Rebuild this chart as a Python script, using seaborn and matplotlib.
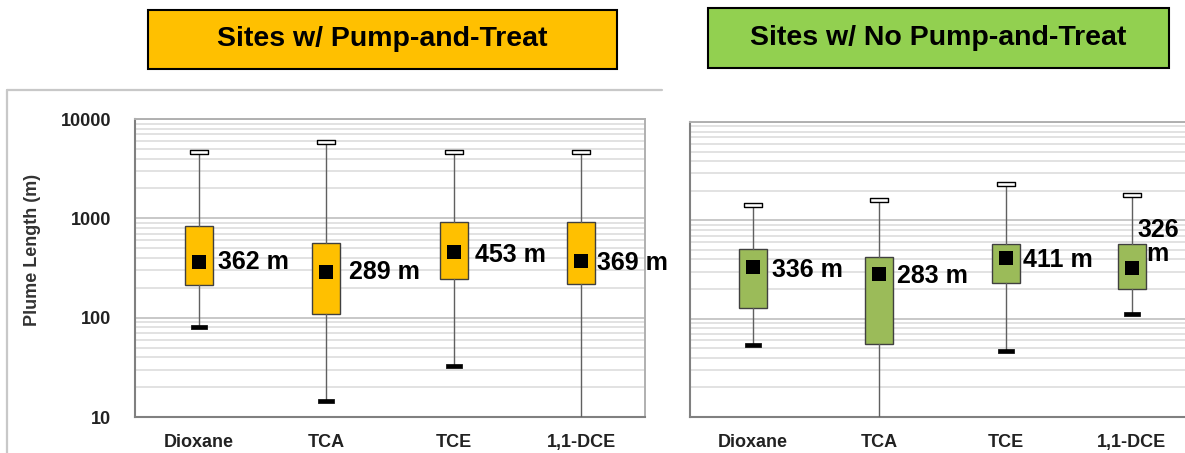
import numpy as np
import pandas as pd
import seaborn as sns
import matplotlib.pyplot as plt
from matplotlib.patches import Rectangle
from matplotlib.lines import Line2D
from matplotlib.ticker import LogLocator, NullFormatter, FixedLocator

compounds = ["Dioxane", "TCA", "TCE", "1,1-DCE"]

# sites with pump-and-treat (plume length, m)
pt_whishi = [4600, 5900, 4700, 4600]
pt_q3 = [840, 570, 925, 925]
pt_q1 = [213, 110, 243, 218]
pt_whislo = [81, 14.6, 32.8, 9]
pt_mean = [362, 289, 453, 369]
pt_labels = ["362 m", "289 m", "453 m", "369 m"]

# sites with no pump-and-treat
npt_whishi = [1430, 1620, 2360, 1800]
npt_q3 = [507, 424, 579, 579]
npt_q1 = [128, 55, 229, 199]
npt_whislo = [53.5, 9, 46.5, 112]
npt_mean = [336, 283, 411, 326]
npt_labels = ["336 m", "283 m", "411 m", "326\nm"]

sns.set_theme(style="white")
plt.rcParams["font.family"] = ["Liberation Sans", "DejaVu Sans"]

W, H = 1185, 453
fig = plt.figure(figsize=(W / 100, H / 100), dpi=100)

# outer light frame around left panel
fig.add_artist(Line2D([7 / W, 662 / W], [1 - 90 / H, 1 - 90 / H], color="#c8c8c8", lw=1.6))
fig.add_artist(Line2D([7 / W, 7 / W], [1 - 90 / H, 0], color="#c8c8c8", lw=1.6))

cap_verts = [(-1, -0.25), (1, -0.25), (1, 0.25), (-1, 0.25), (-1, -0.25)]


def panel(ax, whishi, q3, q1, whislo, mean, labels, color, dxs, show_y):
    stats = []
    for i in range(len(compounds)):
        stats.append(dict(med=mean[i], q1=q1[i], q3=q3[i], whislo=whislo[i], whishi=whishi[i]))
    ax.bxp(stats, positions=range(len(compounds)), widths=0.22, showcaps=False,
           showfliers=False, patch_artist=True,
           boxprops=dict(facecolor=color, edgecolor="#404040", lw=1.0),
           whiskerprops=dict(color="#606060", lw=1.0),
           medianprops=dict(lw=0), zorder=3)
    df = pd.DataFrame({"x": range(len(compounds)), "mean": mean, "hi": whishi, "lo": whislo})
    sns.scatterplot(data=df, x="x", y="hi", marker=cap_verts, s=160, color="white",
                    edgecolor="black", linewidth=1.0, ax=ax, zorder=4, legend=False)
    sns.scatterplot(data=df, x="x", y="lo", marker=cap_verts, s=140, color="black",
                    edgecolor="black", linewidth=0.5, ax=ax, zorder=4, legend=False)
    sns.scatterplot(data=df, x="x", y="mean", marker="s", s=90, color="black",
                    edgecolor="black", linewidth=0, ax=ax, zorder=5, legend=False)
    for i, lab in enumerate(labels):
        dx, dy = dxs[i]
        ax.annotate(lab, (i, mean[i]), xytext=(dx, dy), textcoords="offset pixels",
                    ha="left" if "\n" not in lab else "center", va="center",
                    fontsize=18, fontweight="bold", color="black",
                    linespacing=1.0, zorder=6, annotation_clip=False)
    ax.set_yscale("log")
    ax.set_ylim(10, 10000)
    ax.set_xlim(-0.5, 3.5)
    ax.yaxis.set_major_locator(FixedLocator([10, 100, 1000, 10000]))
    ax.yaxis.set_minor_locator(LogLocator(base=10, subs=np.arange(2, 10)))
    ax.yaxis.set_minor_formatter(NullFormatter())
    ax.grid(True, which="major", axis="y", color="#c8c8c8", lw=1.4)
    ax.grid(True, which="minor", axis="y", color="#e2e2e2", lw=1.4)
    ax.set_axisbelow(True)
    ax.set_xticks(range(len(compounds)))
    ax.set_xticklabels(compounds, fontsize=13, fontweight="bold", color="#222222")
    ax.tick_params(axis="x", length=0, pad=12)
    ax.tick_params(axis="y", which="major", length=5, width=1.2, color="#808080",
                   direction="out", pad=12, labelsize=13)
    ax.tick_params(axis="y", which="minor", length=0)
    if show_y:
        ax.set_yticklabels(["10", "100", "1000", "10000"], fontweight="bold", color="#222222")
    else:
        ax.set_yticklabels([])
    for s in ["left", "bottom"]:
        ax.spines[s].set_color("#808080")
        ax.spines[s].set_linewidth(1.5)
    for s in ["top", "right"]:
        ax.spines[s].set_color("#b0b0b0")
        ax.spines[s].set_linewidth(1.4)
    ax.set_xlabel("")
    ax.set_ylabel("")


ax1 = fig.add_axes([135 / W, 36 / H, 510 / W, 298 / H])
panel(ax1, pt_whishi, pt_q3, pt_q1, pt_whislo, pt_mean, pt_labels, "#FFC000",
      [(19, 0), (23, 0), (21, -3), (16, -2)], True)

ax2 = fig.add_axes([690 / W, 36 / H, 505 / W, 295 / H])
panel(ax2, npt_whishi, npt_q3, npt_q1, npt_whislo, npt_mean, npt_labels, "#9BBB59",
      [(19, -3), (18, -2), (17, -2), (26, 26)], False)

fig.text(33 / W, 1 - 250 / H, "Plume Length (m)", rotation=90, ha="center", va="center",
         fontsize=13, fontweight="bold", color="#333333")

# title boxes
fig.add_artist(Rectangle((148 / W, 1 - 69 / H), (617 - 148) / W, 59 / H,
                         facecolor="#FFC000", edgecolor="black", lw=1.5))
fig.text((148 + 617) / 2 / W, 1 - 39 / H, "Sites w/ Pump-and-Treat", ha="center", va="center",
         fontsize=20.5, fontweight="bold", color="black")
fig.add_artist(Rectangle((708 / W, 1 - 68 / H), (1169 - 708) / W, 60 / H,
                         facecolor="#92D050", edgecolor="black", lw=1.5))
fig.text((708 + 1169) / 2 / W, 1 - 38 / H, "Sites w/ No Pump-and-Treat", ha="center", va="center",
         fontsize=20.5, fontweight="bold", color="black")

fig.savefig("out.png", dpi=100)
